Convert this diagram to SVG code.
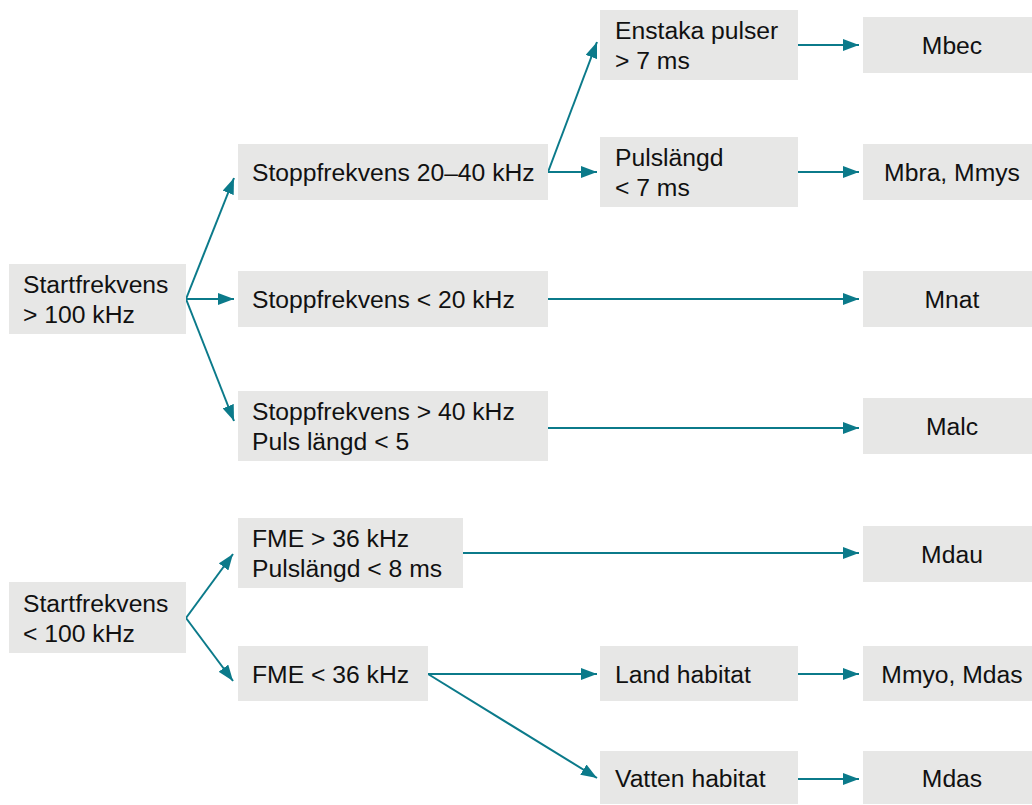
<svg xmlns="http://www.w3.org/2000/svg" width="1032" height="805" viewBox="0 0 1032 805">
<defs>
<style>
.box{fill:#E7E7E6;}
.t{font-family:"Liberation Sans",Arial,sans-serif;font-size:24.7px;fill:#111;}
.c{text-anchor:middle;}
.ln{stroke:#0B7A8A;stroke-width:2;fill:none;marker-end:url(#ah);}
</style>
<marker id="ah" viewBox="0 0 16 12" refX="16" refY="6" markerWidth="16" markerHeight="12" markerUnits="userSpaceOnUse" orient="auto">
<path d="M0,0 L16,6 L0,12 Z" fill="#0B7A8A"/>
</marker>
</defs>
<rect width="1032" height="805" fill="#fff"/>
<g id="connectors">
<path class="ln" d="M186,299 L234,178"/>
<path class="ln" d="M186,299 L234,299"/>
<path class="ln" d="M186,299 L234,421"/>
<path class="ln" d="M548,172 L597,42"/>
<path class="ln" d="M548,172 L597,172"/>
<path class="ln" d="M798,45 L859,45"/>
<path class="ln" d="M798,172 L859,172"/>
<path class="ln" d="M548,299 L859,299"/>
<path class="ln" d="M548,428 L859,428"/>
<path class="ln" d="M186,618 L233,554"/>
<path class="ln" d="M186,618 L233,681"/>
<path class="ln" d="M463,553 L859,553"/>
<path class="ln" d="M428,674 L597,674"/>
<path class="ln" d="M428,674 L597,778"/>
<path class="ln" d="M798,674 L859,674"/>
<path class="ln" d="M798,779 L859,779"/>
</g>
<g id="start1"><rect class="box" x="9" y="264" width="177" height="70"/><text class="t" x="23" y="293">Startfrekvens</text><text class="t" x="23" y="323">&gt; 100 kHz</text></g>
<g id="stopp2040"><rect class="box" x="238" y="144" width="310" height="56"/><text class="t" x="252" y="181">Stoppfrekvens 20–40 kHz</text></g>
<g id="stopp20"><rect class="box" x="238" y="271" width="310" height="56"/><text class="t" x="252" y="308">Stoppfrekvens &lt; 20 kHz</text></g>
<g id="stopp40"><rect class="box" x="238" y="391" width="310" height="70"/><text class="t" x="252" y="420">Stoppfrekvens &gt; 40 kHz</text><text class="t" x="252" y="450">Puls längd &lt; 5</text></g>
<g id="enstaka"><rect class="box" x="600" y="10" width="198" height="70"/><text class="t" x="615" y="39">Enstaka pulser</text><text class="t" x="615" y="69">&gt; 7 ms</text></g>
<g id="pulslangd"><rect class="box" x="600" y="137" width="198" height="70"/><text class="t" x="615" y="166">Pulslängd</text><text class="t" x="615" y="196">&lt; 7 ms</text></g>
<g id="mbec"><rect class="box" x="863" y="17" width="169" height="56"/><text class="t c" x="952" y="54">Mbec</text></g>
<g id="mbra"><rect class="box" x="863" y="144" width="169" height="56"/><text class="t c" x="952" y="181">Mbra, Mmys</text></g>
<g id="mnat"><rect class="box" x="863" y="271" width="169" height="56"/><text class="t c" x="952" y="308">Mnat</text></g>
<g id="malc"><rect class="box" x="863" y="398" width="169" height="56"/><text class="t c" x="952" y="435">Malc</text></g>
<g id="start2"><rect class="box" x="9" y="582" width="177" height="71"/><text class="t" x="23" y="612">Startfrekvens</text><text class="t" x="23" y="642">&lt; 100 kHz</text></g>
<g id="fme36a"><rect class="box" x="238" y="518" width="225" height="70"/><text class="t" x="252" y="547">FME &gt; 36 kHz</text><text class="t" x="252" y="577">Pulslängd &lt; 8 ms</text></g>
<g id="fme36b"><rect class="box" x="238" y="646" width="190" height="55"/><text class="t" x="252" y="683">FME &lt; 36 kHz</text></g>
<g id="mdau"><rect class="box" x="863" y="526" width="169" height="56"/><text class="t c" x="952" y="563">Mdau</text></g>
<g id="land"><rect class="box" x="600" y="646" width="198" height="55"/><text class="t" x="615" y="683">Land habitat</text></g>
<g id="vatten"><rect class="box" x="600" y="751" width="198" height="53"/><text class="t" x="615" y="787">Vatten habitat</text></g>
<g id="mmyo"><rect class="box" x="863" y="646" width="169" height="55"/><text class="t c" x="952" y="683">Mmyo, Mdas</text></g>
<g id="mdas"><rect class="box" x="863" y="751" width="169" height="53"/><text class="t c" x="952" y="787">Mdas</text></g>
</svg>
